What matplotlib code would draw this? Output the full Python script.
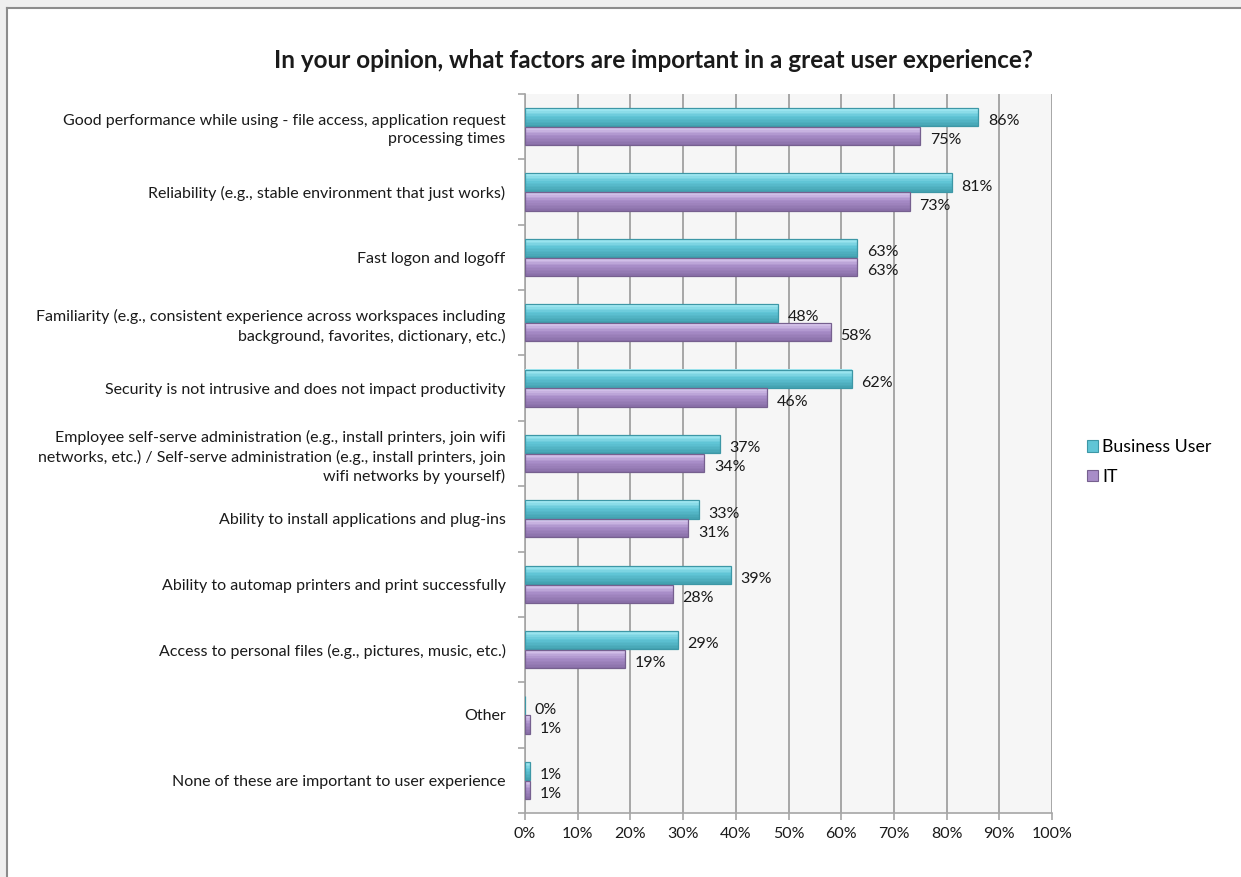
import numpy as np
import matplotlib

matplotlib.use("Agg")
import matplotlib.pyplot as plt
from matplotlib.colors import to_rgb
from matplotlib.patches import Patch, Rectangle
from matplotlib.lines import Line2D

plt.rcParams["font.family"] = ["Lato", "DejaVu Sans"]

# ---------------------------------------------------------------------------
# Data
# ---------------------------------------------------------------------------
TITLE = "In your opinion, what factors are important in a great user experience?"
categories = [
    "Good performance while using - file access, application request\nprocessing times",
    "Reliability (e.g., stable environment that just works)",
    "Fast logon and logoff",
    "Familiarity (e.g., consistent experience across workspaces including\nbackground, favorites, dictionary, etc.)",
    "Security is not intrusive and does not impact productivity",
    "Employee self-serve administration (e.g., install printers, join wifi\nnetworks, etc.) / Self-serve administration (e.g., install printers, join\nwifi networks by yourself)",
    "Ability to install applications and plug-ins",
    "Ability to automap printers and print successfully",
    "Access to personal files (e.g., pictures, music, etc.)",
    "Other",
    "None of these are important to user experience",
]
business_user = [86, 81, 63, 48, 62, 37, 33, 39, 29, 0, 1]
it_staff = [75, 73, 63, 58, 46, 34, 31, 28, 19, 1, 1]
series_names = ["Business User", "IT"]
x_ticks = [0, 10, 20, 30, 40, 50, 60, 70, 80, 90, 100]

# styles: (top highlight, main, bottom shade, edge)
STYLES = [("#a8ecf5", "#60c5d6", "#45a3b2", "#3d97a6"),
          ("#dccbf0", "#a88dc8", "#8a70a9", "#76608f")]
TEXT = "#1a1a1a"
GRID = "#a6a6a6"

# ---------------------------------------------------------------------------
# Figure
# ---------------------------------------------------------------------------
fig = plt.figure(figsize=(12.41, 8.77), dpi=100)
W, H = 1241, 877
ax = fig.add_axes([525 / W, 1 - 813 / H, (1052 - 525) / W, (813 - 94) / H])
ax.set_facecolor("#f6f6f6")

# outer frame (top/left edge with soft shadow)
fig.add_artist(Rectangle((0, 1 - 8 / H), 1, 8 / H, transform=fig.transFigure,
                         facecolor="#efefef", edgecolor="none", zorder=-5))
fig.add_artist(Rectangle((0, 0), 7 / W, 1, transform=fig.transFigure,
                         facecolor="#efefef", edgecolor="none", zorder=-5))
fig.add_artist(Line2D([7 / W, 1], [1 - 8 / H, 1 - 8 / H], transform=fig.transFigure,
                      color="#8c8c8c", lw=1.5))
fig.add_artist(Line2D([7 / W, 7 / W], [0, 1 - 8 / H], transform=fig.transFigure,
                      color="#8c8c8c", lw=1.5))


def gradient(top, mid, bot, k):
    """k colours running from top highlight through main to bottom shade."""
    t, m, b = map(np.array, (to_rgb(top), to_rgb(mid), to_rgb(bot)))
    out = []
    for s in np.linspace(0, 1, k):
        if s < 0.45:
            c = t + (m - t) * (s / 0.45)
        else:
            c = m + (b - m) * ((s - 0.45) / 0.55)
        out.append(c)
    return out


n = len(categories)
y = np.arange(n)
bh = 0.28
offsets = [-0.145, 0.145]
N_SLICE = 12

for vals, off, (top, mid, bot, edge) in zip([business_user, it_staff], offsets, STYLES):
    cols = gradient(top, mid, bot, N_SLICE)
    sh = bh / N_SLICE
    for k, c in enumerate(cols):
        ax.barh(y + off - bh / 2 + sh * (k + 0.5), vals, height=sh * 1.05,
                color=c, edgecolor="none", zorder=3)
    ax.barh(y + off, vals, height=bh, color="none", edgecolor=edge,
            linewidth=0.9, zorder=4)
    for yi, v in zip(y + off, vals):
        ax.annotate(f"{v}%", (v, yi), xytext=(7, -3), textcoords="offset points",
                    ha="left", va="center", fontsize=11.5, color=TEXT, zorder=5)

ax.set_xlim(0, 100)
ax.set_ylim(n - 0.5, -0.5)
ax.set_xticks(x_ticks)
ax.set_xticklabels([f"{t}%" for t in x_ticks], fontsize=11.5, color=TEXT)
ax.xaxis.grid(True, color=GRID, linewidth=1.4, zorder=0)
ax.set_axisbelow(True)

ax.set_yticks(y)
ax.set_yticklabels(categories, fontsize=11.5, color=TEXT, ha="right",
                   multialignment="right", linespacing=1.35)
ax.tick_params(axis="y", length=0, pad=14)
ax.set_yticks(np.arange(n + 1) - 0.5, minor=True)
ax.tick_params(axis="y", which="minor", length=5, color=GRID, width=1.2)
ax.tick_params(axis="x", length=5, color=GRID, width=1.2, pad=5)

for s in ["top", "right"]:
    ax.spines[s].set_visible(False)
for s in ["left", "bottom"]:
    ax.spines[s].set_color(GRID)
    ax.spines[s].set_linewidth(1.2)

fig.text(654 / W, 1 - 60 / H, TITLE, ha="center", va="center",
         fontsize=17.5, fontweight="bold", color=TEXT)

handles = [Patch(facecolor=m, edgecolor=e, linewidth=0.8) for _, m, _, e in STYLES]
fig.legend(handles, series_names, loc="center left",
           bbox_to_anchor=(1080 / W, 1 - 462 / H), frameon=False,
           fontsize=12.8, handlelength=0.6, handleheight=0.6, handletextpad=0.25,
           labelspacing=0.75, borderaxespad=0)

fig.savefig("out.png", dpi=100)
